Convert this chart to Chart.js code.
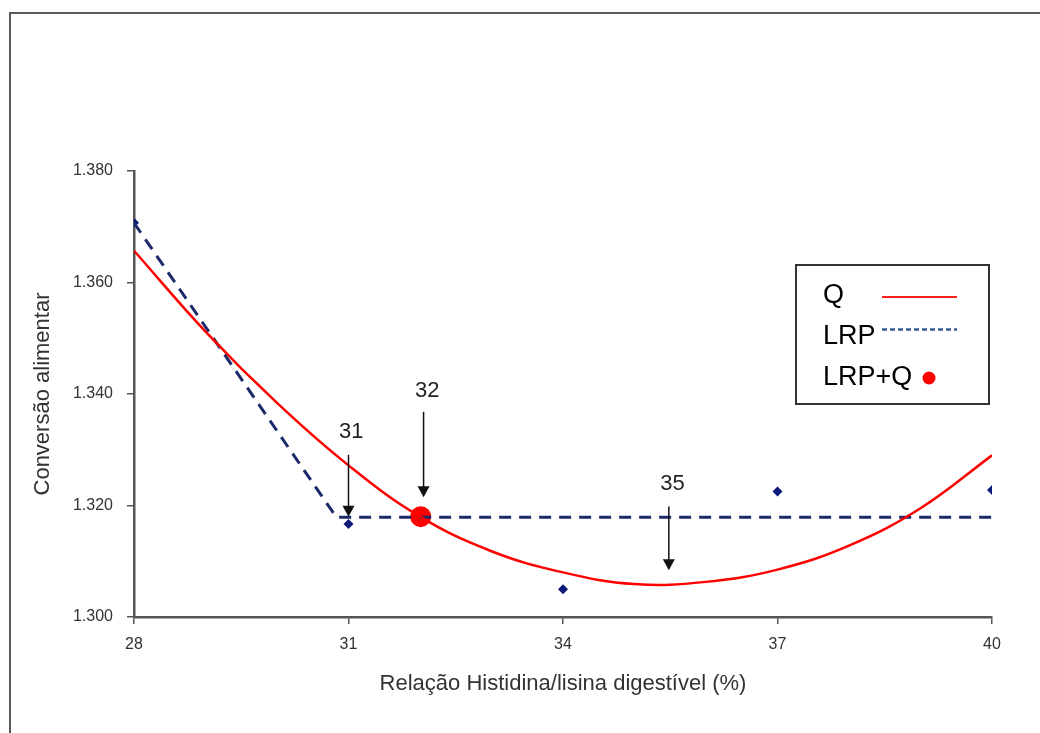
<!DOCTYPE html>
<html>
<head>
<meta charset="utf-8">
<script src="https://cdn.jsdelivr.net/npm/chart.js@4.4.1/dist/chart.umd.min.js"></script>
<style>
  html, body { margin: 0; padding: 0; background: #fff; }
  #wrap { position: relative; width: 1040px; height: 733px; overflow: hidden; }
  #frame {
    position: absolute; left: 9px; top: 12px; width: 1100px; height: 800px;
    border-left: 2px solid #5a5a5a; border-top: 2px solid #5a5a5a;
    pointer-events: none;
  }
  canvas { position: absolute; left: 0; top: 0; }
</style>
</head>
<body>
<div id="wrap">
  <canvas id="chart" width="1040" height="733"></canvas>
  <div id="frame"></div>
</div>
<script>
const FONT = "'Liberation Sans', Arial, sans-serif";

// axis ticks
const xTicks = [28, 31, 34, 37, 40];
const yTicks = [1.30, 1.32, 1.34, 1.36, 1.38];

// observed means (blue diamonds)
const obsX = [28, 31, 34, 37, 40];
const obsY = [1.3707, 1.3167, 1.3050, 1.3225, 1.3228];

// quadratic fit (Q)
const quadX = [28, 29, 30, 31, 32, 33, 34, 35, 36, 37, 38, 39, 40];
const quadY = [1.3657, 1.3512, 1.3384, 1.3272, 1.3180, 1.3118, 1.3080, 1.3059, 1.3063, 1.3085, 1.3128, 1.3195, 1.3290];

// linear response plateau (LRP)
const lrpX = [28, 30.83, 40];
const lrpY = [1.3707, 1.3179, 1.3179];

// LRP+Q intersection
const optX = [32.01];
const optY = [1.3180];

// arrows with labels
const arrowText = ["31", "32", "35"];
const arrowX = [31, 32.05, 35.48];
const arrowFrom = [1.3291, 1.3368, 1.3198];
const arrowTo = [1.3180, 1.3215, 1.3084];
const arrowLabelX = [31.04, 32.10, 35.53];
const arrowLabelY = [1.3332, 1.3405, 1.3239];

const legendLabels = ["Q", "LRP", "LRP+Q"];

const pts = (xs, ys) => xs.map((x, i) => ({ x, y: ys[i] }));

const arrowsPlugin = {
  id: "arrows",
  afterDatasetsDraw(chart) {
    const { ctx, scales: { x, y } } = chart;
    ctx.save();
    arrowText.forEach((t, i) => {
      const px = x.getPixelForValue(arrowX[i]);
      const y0 = y.getPixelForValue(arrowFrom[i]);
      const y1 = y.getPixelForValue(arrowTo[i]);
      const head = 11;
      ctx.strokeStyle = "#111";
      ctx.lineWidth = 1.5;
      ctx.beginPath();
      ctx.moveTo(px, y0);
      ctx.lineTo(px, y1 - head + 1);
      ctx.stroke();
      ctx.fillStyle = "#111";
      ctx.beginPath();
      ctx.moveTo(px, y1);
      ctx.lineTo(px - 6, y1 - head);
      ctx.lineTo(px + 6, y1 - head);
      ctx.closePath();
      ctx.fill();
      ctx.font = "22px " + FONT;
      ctx.fillStyle = "#222";
      ctx.textAlign = "center";
      ctx.textBaseline = "middle";
      ctx.fillText(t, x.getPixelForValue(arrowLabelX[i]), y.getPixelForValue(arrowLabelY[i]));
    });
    ctx.restore();
  },
};

const legendPlugin = {
  id: "boxLegend",
  afterDraw(chart) {
    const { ctx } = chart;
    ctx.save();
    ctx.fillStyle = "#fff";
    ctx.fillRect(796, 265, 193, 139);
    ctx.strokeStyle = "#333";
    ctx.lineWidth = 2;
    ctx.strokeRect(796, 265, 193, 139);

    ctx.font = "27px " + FONT;
    ctx.fillStyle = "#000";
    ctx.textAlign = "left";
    ctx.textBaseline = "alphabetic";
    const base = [303, 344, 385];
    legendLabels.forEach((l, i) => ctx.fillText(l, 823, base[i]));

    ctx.strokeStyle = "#ff2020";
    ctx.lineWidth = 2;
    ctx.beginPath();
    ctx.moveTo(882, 297);
    ctx.lineTo(957, 297);
    ctx.stroke();

    ctx.strokeStyle = "#3d5a96";
    ctx.lineWidth = 2.5;
    ctx.setLineDash([5, 3]);
    ctx.beginPath();
    ctx.moveTo(882, 329.5);
    ctx.lineTo(957, 329.5);
    ctx.stroke();
    ctx.setLineDash([]);

    ctx.fillStyle = "#ff0000";
    ctx.beginPath();
    ctx.arc(929, 378, 6.5, 0, Math.PI * 2);
    ctx.fill();
    ctx.restore();
  },
};

const axisCommon = {
  border: { display: true, color: "#555", width: 2.5 },
  grid: { drawOnChartArea: false, drawTicks: true, tickLength: 7, color: "#555", lineWidth: 1.5 },
};

new Chart(document.getElementById("chart"), {
  type: "scatter",
  data: {
    datasets: [
      {
        label: "Q",
        data: pts(quadX, quadY),
        showLine: true,
        borderColor: "#ff0000",
        borderWidth: 2.5,
        pointRadius: 0,
        tension: 0.4,
      },
      {
        label: "LRP",
        data: pts(lrpX, lrpY),
        showLine: true,
        borderColor: "#1b2a6b",
        borderWidth: 3,
        borderDash: [12, 8],
        pointRadius: 0,
        tension: 0,
      },
      {
        label: "obs",
        data: pts(obsX, obsY),
        showLine: false,
        pointStyle: "rectRot",
        pointRadius: 5,
        backgroundColor: "#0b1a78",
        borderWidth: 0,
      },
      {
        label: "LRP+Q",
        data: pts(optX, optY),
        showLine: false,
        pointStyle: "circle",
        pointRadius: 10.5,
        backgroundColor: "#ff0000",
        borderWidth: 0,
      },
    ],
  },
  options: {
    responsive: false,
    animation: false,
    layout: { padding: { left: 30, top: 171, right: 48, bottom: 36 } },
    plugins: { legend: { display: false }, tooltip: { enabled: false } },
    scales: {
      x: {
        ...axisCommon,
        type: "linear",
        min: 28,
        max: 40,
        afterBuildTicks: (s) => { s.ticks = xTicks.map((v) => ({ value: v })); },
        afterFit: (s) => { s.height = 80; },
        ticks: { padding: 11, color: "#333", font: { family: FONT, size: 16 }, callback: (v) => String(v) },
        title: {
          display: true,
          text: "Relação Histidina/lisina digestível (%)",
          color: "#333",
          padding: 0,
          font: { family: FONT, size: 22 },
        },
      },
      y: {
        ...axisCommon,
        type: "linear",
        min: 1.3,
        max: 1.38,
        afterBuildTicks: (s) => { s.ticks = yTicks.map((v) => ({ value: v })); },
        afterFit: (s) => { s.width = 104; },
        ticks: { padding: 14, color: "#333", font: { family: FONT, size: 16 }, callback: (v) => Number(v).toFixed(3) },
        title: {
          display: true,
          text: "Conversão alimentar",
          color: "#333",
          padding: 0,
          font: { family: FONT, size: 22 },
        },
      },
    },
  },
  plugins: [arrowsPlugin, legendPlugin],
});
</script>
</body>
</html>
